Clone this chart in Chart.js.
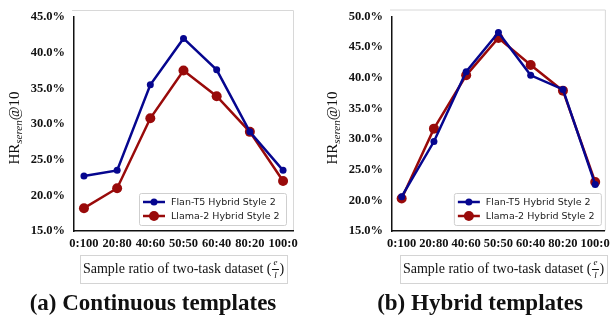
<!DOCTYPE html>
<html>
<head>
<meta charset="utf-8">
<script src="https://cdn.jsdelivr.net/npm/chart.js@4.4.1/dist/chart.umd.min.js"></script>
<style>
  body { margin: 0; background: #fff; width: 615px; height: 324px; position: relative; overflow: hidden; }
  canvas { position: absolute; top: 0; }
  #c1 { left: 0; }
  #c2 { left: 307px; }
  .cap { position: absolute; top: 290px; font: bold 23px "Liberation Serif", serif; color: #111; white-space: nowrap; transform: translateX(-50%); }
</style>
</head>
<body>
<canvas id="c1" width="307" height="324"></canvas>
<canvas id="c2" width="308" height="324"></canvas>
<div class="cap" style="left:153px">(a) Continuous templates</div>
<div class="cap" style="left:480px">(b) Hybrid templates</div>
<script>
const ratios = ['0:100', '20:80', '40:60', '50:50', '60:40', '80:20', '100:0'];
const seriesNames = ['Flan-T5 Hybrid Style 2', 'Llama-2 Hybrid Style 2'];

// (a) continuous templates
const flanContinuous = [22.7, 23.5, 35.5, 42.0, 37.6, 28.9, 23.5];
const llamaContinuous = [18.2, 21.0, 30.8, 37.5, 33.9, 28.9, 22.0];
const ticksContinuous = [15, 20, 25, 30, 35, 40, 45];

// (b) hybrid templates
const flanHybrid = [20.6, 29.6, 41.0, 47.4, 40.4, 38.1, 22.6];
const llamaHybrid = [20.3, 31.7, 40.4, 46.5, 42.1, 37.9, 23.0];
const ticksHybrid = [15, 20, 25, 30, 35, 40, 45, 50];

const blue = '#06068f';
const red = '#990a0a';
const serif = '"Liberation Serif", "Times New Roman", serif';

function drawYTitle(ctx, x, y) {
    ctx.save();
    ctx.translate(x, y);
    ctx.rotate(-Math.PI / 2);
    ctx.fillStyle = '#111';
    ctx.textBaseline = 'middle';
    const parts = [
        { t: 'HR', f: '15px ' + serif, dy: 0 },
        { t: 'seren', f: 'italic 11px ' + serif, dy: 4 },
        { t: '@10', f: '15px ' + serif, dy: 0 }
    ];
    let total = 0;
    parts.forEach(p => { ctx.font = p.f; p.w = ctx.measureText(p.t).width; total += p.w; });
    let cx = -total / 2;
    parts.forEach(p => {
        ctx.font = p.f;
        ctx.textAlign = 'left';
        ctx.fillText(p.t, cx, p.dy);
        cx += p.w;
    });
    ctx.restore();
}

function drawXTitle(ctx, left, top, w, h) {
    ctx.save();
    ctx.strokeStyle = '#d4d4d4';
    ctx.lineWidth = 1;
    ctx.strokeRect(left + 0.5, top + 0.5, w, h);
    const cy = top + h / 2;
    ctx.fillStyle = '#111';
    ctx.textBaseline = 'middle';
    ctx.textAlign = 'left';
    ctx.font = '14px ' + serif;
    const txt = 'Sample ratio of two-task dataset (';
    const tw = ctx.measureText(txt).width;
    const total = tw + 8 + ctx.measureText(')').width;
    let x = left + (w - total) / 2;
    ctx.fillText(txt, x, cy);
    x += tw;
    ctx.font = 'italic 9px ' + serif;
    ctx.textAlign = 'center';
    ctx.fillText('e', x + 4, cy - 6);
    ctx.fillText('l', x + 4, cy + 7);
    ctx.beginPath();
    ctx.moveTo(x + 0.5, cy + 0.5);
    ctx.lineTo(x + 7.5, cy + 0.5);
    ctx.strokeStyle = '#111';
    ctx.stroke();
    ctx.font = '14px ' + serif;
    ctx.textAlign = 'left';
    ctx.fillText(')', x + 8, cy);
    ctx.restore();
}

function drawLegend(ctx, area, rightGap) {
    const w = 147, h = 32;
    const x0 = area.right - rightGap - w;
    const y0 = area.bottom - 6 - h;
    ctx.save();
    ctx.fillStyle = 'rgba(255,255,255,0.9)';
    ctx.strokeStyle = '#cfcfcf';
    ctx.lineWidth = 1;
    ctx.beginPath();
    ctx.roundRect(x0 + 0.5, y0 + 0.5, w, h, 2);
    ctx.fill();
    ctx.stroke();
    const rows = [
        { name: seriesNames[0], color: blue, r: 3.5 },
        { name: seriesNames[1], color: red, r: 5 }
    ];
    rows.forEach((row, i) => {
        const cy = y0 + 9 + i * 14;
        ctx.strokeStyle = row.color;
        ctx.lineWidth = 2.5;
        ctx.beginPath();
        ctx.moveTo(x0 + 4, cy);
        ctx.lineTo(x0 + 26, cy);
        ctx.stroke();
        ctx.fillStyle = row.color;
        ctx.beginPath();
        ctx.arc(x0 + 15, cy, row.r, 0, Math.PI * 2);
        ctx.fill();
        ctx.fillStyle = '#222';
        ctx.font = '9.5px "DejaVu Sans", sans-serif';
        ctx.textBaseline = 'middle';
        ctx.textAlign = 'left';
        ctx.fillText(row.name, x0 + 32, cy + 0.5);
    });
    ctx.restore();
}

function makeDecor(cfg) {
    return {
        id: 'decor',
        beforeDraw(chart) {
            const a = chart.chartArea;
            const ctx = chart.ctx;
            ctx.save();
            ctx.strokeStyle = '#d8d8d8';
            ctx.lineWidth = 1;
            ctx.beginPath();
            ctx.moveTo(a.left - 2, a.top - 6.5);
            ctx.lineTo(a.right + 0.5, a.top - 6.5);
            ctx.lineTo(a.right + 0.5, a.bottom);
            ctx.stroke();
            ctx.restore();
        },
        afterDraw(chart) {
            const a = chart.chartArea;
            const ctx = chart.ctx;
            drawYTitle(ctx, cfg.titleX, 128);
            drawXTitle(ctx, cfg.boxLeft, 255, 207, 28);
            drawLegend(ctx, a, cfg.legendGap);
        }
    };
}

function buildChart(id, flan, llama, yTicks, pad, decor) {
    const toPoints = arr => arr.map((v, i) => ({ x: i, y: v }));
    return new Chart(document.getElementById(id), {
        type: 'line',
        data: {
            datasets: [
                {
                    label: seriesNames[0],
                    data: toPoints(flan),
                    borderColor: blue,
                    backgroundColor: blue,
                    borderWidth: 2.5,
                    pointRadius: 3.5,
                    pointBorderWidth: 0,
                    tension: 0
                },
                {
                    label: seriesNames[1],
                    data: toPoints(llama),
                    borderColor: red,
                    backgroundColor: red,
                    borderWidth: 2.5,
                    pointRadius: 5,
                    pointBorderWidth: 0,
                    tension: 0
                }
            ]
        },
        options: {
            responsive: false,
            animation: false,
            layout: { padding: pad },
            plugins: {
                legend: { display: false },
                tooltip: { enabled: false }
            },
            scales: {
                x: {
                    type: 'linear',
                    min: -0.3,
                    max: 6.3,
                    afterBuildTicks: s => { s.ticks = ratios.map((_, i) => ({ value: i })); },
                    afterFit: s => { s.height = 24; },
                    grid: { display: false, drawTicks: false },
                    border: { display: true, color: '#111', width: 1.5 },
                    ticks: {
                        autoSkip: false,
                        maxRotation: 0,
                        padding: 5,
                        color: '#111',
                        font: { family: serif, size: 12.5, weight: 'bold' },
                        callback: v => ratios[v]
                    }
                },
                y: {
                    min: yTicks[0],
                    max: yTicks[yTicks.length - 1],
                    afterBuildTicks: s => { s.ticks = yTicks.map(v => ({ value: v })); },
                    afterFit: s => { s.width = 50; },
                    grid: { display: false, drawTicks: false },
                    border: { display: true, color: '#111', width: 1.5 },
                    ticks: {
                        padding: 9,
                        color: '#111',
                        font: { family: serif, size: 12.5, weight: 'bold' },
                        callback: v => v.toFixed(1) + '%'
                    }
                }
            }
        },
        plugins: [decor]
    });
}

buildChart('c1', flanContinuous, llamaContinuous, ticksContinuous,
    { left: 24, right: 14, top: 17, bottom: 69 },
    makeDecor({ titleX: 15, boxLeft: 80, legendGap: 7 }));

buildChart('c2', flanHybrid, llamaHybrid, ticksHybrid,
    { left: 35, right: 4, top: 15, bottom: 69 },
    makeDecor({ titleX: 26, boxLeft: 93, legendGap: 4 }));
</script>
</body>
</html>
